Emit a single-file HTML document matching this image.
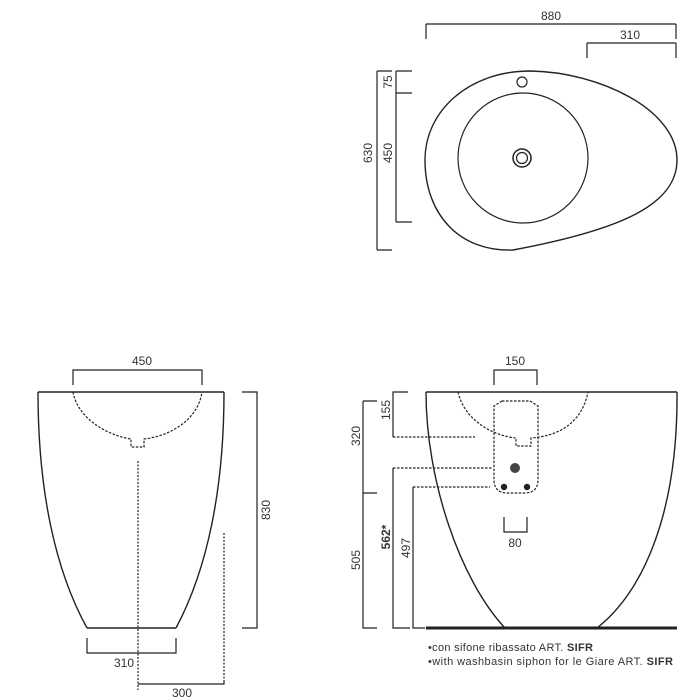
<!DOCTYPE html>
<html><head><style>
html,body{margin:0;padding:0;background:#fff;width:700px;height:700px;overflow:hidden}
svg{display:block}
text{font-family:"Liberation Sans",sans-serif;fill:#333;font-size:12px}
</style></head><body>
<svg width="700" height="700" viewBox="0 0 700 700" xmlns="http://www.w3.org/2000/svg">
<g stroke="#222" stroke-width="1.2" fill="none">
<!-- TOP VIEW -->
<path d="M426,24H676M426,24V39M676,24V39"/>
<path d="M587,43H676M587,43V58M676,58V43"/>
<path d="M530,71 C600,72 677,110 677,160 C677,205 620,230 513,250 C460,252 425,215 425,160 C425,110 470,71 530,71Z" stroke-width="1.4"/>
<circle cx="523" cy="158" r="65"/>
<circle cx="522" cy="82" r="5"/>
<circle cx="522" cy="158" r="9" stroke-width="1.5"/>
<circle cx="522" cy="158" r="5.5"/>
<path d="M377,71V250M377,71H392M377,250H392"/>
<path d="M396,71V222M396,71H412M396,93H412M396,222H412"/>
<!-- FRONT VIEW -->
<path d="M73,385V370H202V385"/>
<path d="M38,392H224M87,628H176" stroke-width="1.4"/>
<path d="M38,392 C38,490 55,570 87,628M224,392 C224,490 207,570 176,628" stroke-width="1.4"/>
<path d="M73,392 C78,420 110,436 131,439V447H144V439 C170,436 198,420 202,392" stroke-dasharray="2.5,1.5"/>
<path d="M138,461V690" stroke-dasharray="2,1.5"/>
<path d="M224,533V682" stroke-dasharray="2,1.5"/>
<path d="M242,392H257V628H242"/>
<path d="M87,638V653H176V638"/>
<path d="M138,684H224V682"/>
<!-- SIDE VIEW -->
<path d="M494,385V370H537V385"/>
<path d="M426,392H677" stroke-width="1.4"/>
<path d="M426,392 C426,480 460,580 505,628M677,392 C678,510 645,590 597,628" stroke-width="1.4"/>
<path d="M426,628H677" stroke-width="3"/>
<path d="M458,392 C465,422 495,436 516,438V446H531V438 C560,436 582,422 588,392" stroke-dasharray="2.5,1.5"/>
<path d="M502,401H530L538,406V480Q538,492 526,493H506Q494,492 494,480V406Z" stroke-dasharray="2.5,1.5"/>
<path d="M504,517V532H527V517"/>
<path d="M408,392H393V437M363,401H377M363,401V628H377M363,493H377"/>
<path d="M393,437H475M393,468H492M413,487H490" stroke-dasharray="2.5,1.5"/>
<path d="M393,468V628H410M413,487V628H425"/>
</g>
<circle cx="515" cy="468" r="5" fill="#444"/>
<circle cx="504" cy="487" r="3.2" fill="#222"/>
<circle cx="527" cy="487" r="3.2" fill="#222"/>
<!-- texts -->
<text x="551" y="20" text-anchor="middle">880</text>
<text x="630" y="39" text-anchor="middle">310</text>
<text transform="translate(372,153) rotate(-90)" text-anchor="middle">630</text>
<text transform="translate(392,82) rotate(-90)" text-anchor="middle">75</text>
<text transform="translate(392,153) rotate(-90)" text-anchor="middle">450</text>
<text x="142" y="365" text-anchor="middle">450</text>
<text transform="translate(270,510) rotate(-90)" text-anchor="middle">830</text>
<text x="124" y="667" text-anchor="middle">310</text>
<text x="182" y="697" text-anchor="middle">300</text>
<text x="515" y="365" text-anchor="middle">150</text>
<text x="515" y="547" text-anchor="middle">80</text>
<text transform="translate(390,410) rotate(-90)" text-anchor="middle">155</text>
<text transform="translate(360,436) rotate(-90)" text-anchor="middle">320</text>
<text transform="translate(360,560) rotate(-90)" text-anchor="middle">505</text>
<text transform="translate(390,537) rotate(-90)" text-anchor="middle" font-weight="bold" style="font-weight:bold">562*</text>
<text transform="translate(410,548) rotate(-90)" text-anchor="middle">497</text>
<text x="428" y="651" font-size="11" style="font-size:11px" textLength="165">•con sifone ribassato ART. <tspan font-weight="bold">SIFR</tspan></text>
<text x="428" y="665" font-size="11" style="font-size:11px" textLength="245">•with washbasin siphon for le Giare ART. <tspan font-weight="bold">SIFR</tspan></text>
</svg>
</body></html>
